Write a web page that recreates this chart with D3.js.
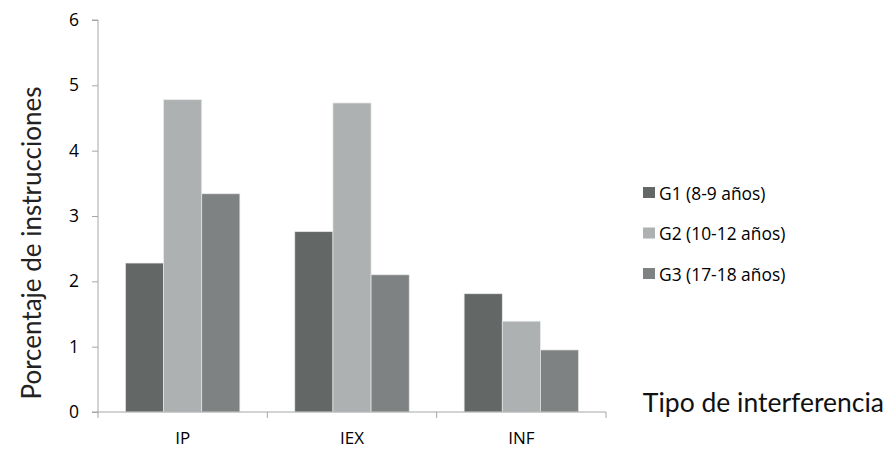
<!DOCTYPE html>
<html><head><meta charset="utf-8">
<script src="https://cdn.jsdelivr.net/npm/d3@7"></script>
<style>body{margin:0;background:#fff}svg{display:block}</style>
</head><body>
<svg id="c" width="886" height="449"></svg>
<script>
const categories = ["IP", "IEX", "INF"];
const seriesNames = ["G1 (8-9 años)", "G2 (10-12 años)", "G3 (17-18 años)"];
const g1 = [2.28, 2.76, 1.81];
const g2 = [4.78, 4.73, 1.39];
const g3 = [3.34, 2.10, 0.95];
const yTicks = [0, 1, 2, 3, 4, 5, 6];
const colors = ["#636766", "#aeb1b2", "#7f8282"];
const series = [g1, g2, g3];

(function () {
const svg = d3.select("#c");
const pL = 98, pR = 606, pT = 20, pB = 412;
const x = d3.scaleBand().domain(categories).range([pL, pR]).paddingInner(0).paddingOuter(0);
const xi = d3.scaleBand().domain(seriesNames).range([0, x.bandwidth()]).paddingInner(0).paddingOuter(0.72);
const y = d3.scaleLinear().domain([0, 6]).range([pB, pT]);
const font = "'Open Sans', 'Liberation Sans', Arial, sans-serif";

categories.forEach((c, ci) => {
  seriesNames.forEach((s, si) => {
    svg.append("rect")
      .attr("x", x(c) + xi(s))
      .attr("y", y(series[si][ci]))
      .attr("width", xi.bandwidth())
      .attr("height", y(0) - y(series[si][ci]))
      .attr("fill", colors[si])
      .attr("stroke", "#e8e8e8").attr("stroke-width", 0.7);
  });
});

const yAxis = d3.axisLeft(y).tickValues(yTicks).tickSize(6).tickPadding(13).tickFormat(d3.format("d"));
const ga = svg.append("g").attr("transform", `translate(${pL},0)`).call(yAxis);
ga.select(".domain").attr("stroke", "#a6a6a6").attr("d", `M-6,${pT}H0V${pB}`);
ga.selectAll(".tick line").attr("stroke", "#a6a6a6");
ga.selectAll("text").attr("font-family", font).attr("font-size", 17.5).attr("fill", "#000");

const gx = svg.append("g").attr("transform", `translate(0,${pB})`);
gx.append("line").attr("x1", pL - 6).attr("x2", pR).attr("y1", 0).attr("y2", 0).attr("stroke", "#a6a6a6");
const bounds = categories.map(c => x(c)).concat([pR]);
gx.selectAll(".tk").data(bounds).join("line")
  .attr("x1", d => d).attr("x2", d => d).attr("y1", 0).attr("y2", 6).attr("stroke", "#a6a6a6");
gx.selectAll(".lb").data(categories).join("text")
  .attr("x", d => x(d) + x.bandwidth() / 2).attr("y", 32)
  .attr("text-anchor", "middle").attr("font-family", font).attr("font-size", 17).text(d => d);

svg.append("text").attr("transform", "translate(41,243) rotate(-90)")
  .attr("text-anchor", "middle").attr("font-family", "Lato, 'Open Sans', sans-serif")
  .attr("font-size", 26).attr("fill", "#222").text("Porcentaje de instrucciones");
svg.append("text").attr("x", 884).attr("y", 412).attr("text-anchor", "end")
  .attr("font-family", "Lato, 'Open Sans', sans-serif").attr("font-size", 26.5).attr("fill", "#111")
  .text("Tipo de interferencia");

const lg = svg.append("g").attr("transform", "translate(643,0)");
seriesNames.forEach((s, i) => {
  const yy = 193 + i * 40.5;
  lg.append("rect").attr("x", 0).attr("y", yy - 6).attr("width", 12).attr("height", 11).attr("fill", colors[i]);
  lg.append("text").attr("x", 16).attr("y", yy + 6.5).attr("font-family", font).attr("font-size", 17.4).text(s);
});
})();
</script>
</body></html>
